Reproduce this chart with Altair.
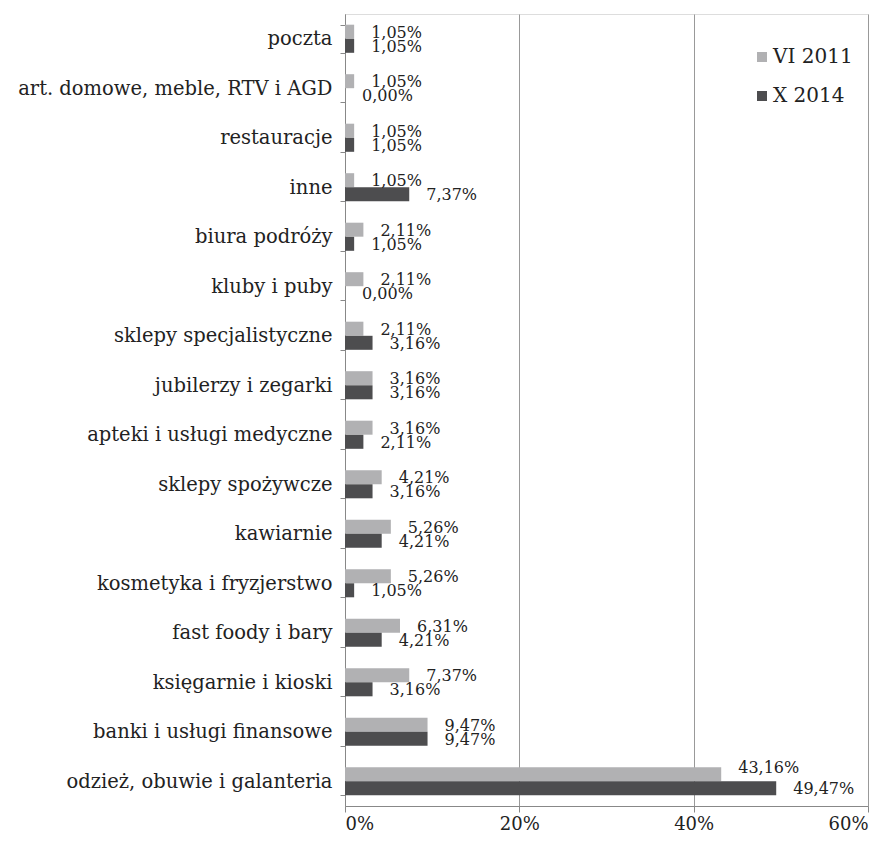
import altair as alt
import pandas as pd

categories = [
    "poczta",
    "art. domowe, meble, RTV i AGD",
    "restauracje",
    "inne",
    "biura podróży",
    "kluby i puby",
    "sklepy specjalistyczne",
    "jubilerzy i zegarki",
    "apteki i usługi medyczne",
    "sklepy spożywcze",
    "kawiarnie",
    "kosmetyka i fryzjerstwo",
    "fast foody i bary",
    "księgarnie i kioski",
    "banki i usługi finansowe",
    "odzież, obuwie i galanteria",
]
vi_2011 = [1.05, 1.05, 1.05, 1.05, 2.11, 2.11, 2.11, 3.16, 3.16, 4.21, 5.26, 5.26, 6.31, 7.37, 9.47, 43.16]
x_2014 = [1.05, 0.00, 1.05, 7.37, 1.05, 0.00, 3.16, 3.16, 2.11, 3.16, 4.21, 1.05, 4.21, 3.16, 9.47, 49.47]
series = ["VI 2011", "X 2014"]
colors = ["#b1b1b3", "#4d4d4f"]

rows = []
for s, vals in zip(series, [vi_2011, x_2014]):
    for c, v in zip(categories, vals):
        rows.append({"kat": c, "seria": s, "v": v / 100.0,
                     "lab": f"{v:.2f}%".replace(".", ",")})
df = pd.DataFrame(rows)

FONT = "DejaVu Serif"
TXT = "#222222"

y = alt.Y("kat:N", sort=categories, title=None,
          scale=alt.Scale(paddingInner=0.43, paddingOuter=0.215),
          axis=alt.Axis(tickBand="extent", labelFont=FONT, labelFontSize=19.5,
                        labelColor=TXT, labelPadding=8, tickSize=5,
                        tickColor="#888888", domainColor="#888888", labelLimit=400))
x = alt.X("v:Q", title=None,
          scale=alt.Scale(domain=[0, 0.6], nice=False),
          axis=alt.Axis(format=".0%", values=[0, 0.2, 0.4, 0.6], grid=True,
                        gridColor="#999999", labelFont=FONT, labelFontSize=18,
                        labelColor=TXT, tickSize=6, tickColor="#888888",
                        domainColor="#888888", labelPadding=3))
yoff = alt.YOffset("seria:N", sort=series, scale=alt.Scale(paddingInner=0, paddingOuter=0))

bars = alt.Chart(df).mark_bar(size=14).encode(
    y=y, x=x, yOffset=yoff,
    color=alt.Color("seria:N", sort=series,
                    scale=alt.Scale(domain=series, range=colors),
                    legend=alt.Legend(title=None, orient="none", legendX=407, legendY=33,
                                      symbolType="square", symbolSize=100,
                                      symbolStrokeWidth=0, labelFont=FONT,
                                      labelFontSize=20, labelColor=TXT,
                                      rowPadding=19, labelOffset=1)),
)

is_top = (alt.datum.kat == categories[-1]) & (alt.datum.seria == series[0])

txt = alt.Chart(df).transform_filter(~is_top).mark_text(
    align="left", baseline="middle", dx=17, dy=1, font=FONT, fontSize=16, color=TXT
).encode(y=y, x=x, yOffset=yoff, text="lab:N")

txt_top = alt.Chart(df).transform_filter(is_top).mark_text(
    align="left", baseline="middle", dx=17, dy=-6, font=FONT, fontSize=16, color=TXT
).encode(y=y, x=x, yOffset=yoff, text="lab:N")

chart = (bars + txt + txt_top).properties(width=523, height=792).configure_view(
    stroke=None
).configure(background="white", padding={"left": 17, "top": 4, "right": 10, "bottom": 0})

chart.save("out.html", embed_options={"renderer": "svg", "actions": False})
